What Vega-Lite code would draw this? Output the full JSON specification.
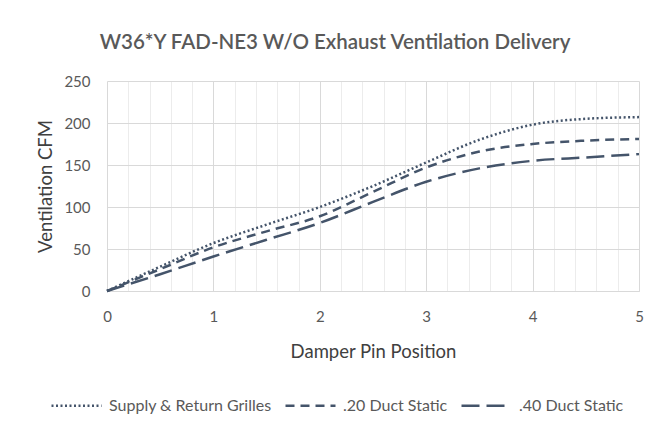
{
  "$schema": "https://vega.github.io/schema/vega-lite/v6.json",
  "width": 532,
  "height": 210,
  "autosize": "none",
  "padding": {"left": 107, "top": 81, "right": 16, "bottom": 136},
  "background": "white",
  "title": {
    "text": "W36*Y FAD-NE3 W/O Exhaust Ventilation Delivery",
    "font": "Lato",
    "fontSize": 20.5,
    "fontWeight": 600,
    "color": "#595959",
    "anchor": "middle",
    "frame": "group",
    "dx": -38,
    "offset": 21
  },
  "data": {
    "values": [
      {"pos": 0, "cfm": 0, "series": "Supply & Return Grilles"},
      {"pos": 0.5, "cfm": 29, "series": "Supply & Return Grilles"},
      {"pos": 1, "cfm": 57, "series": "Supply & Return Grilles"},
      {"pos": 1.5, "cfm": 79, "series": "Supply & Return Grilles"},
      {"pos": 2, "cfm": 100, "series": "Supply & Return Grilles"},
      {"pos": 2.5, "cfm": 125, "series": "Supply & Return Grilles"},
      {"pos": 3, "cfm": 153, "series": "Supply & Return Grilles"},
      {"pos": 3.5, "cfm": 180, "series": "Supply & Return Grilles"},
      {"pos": 4, "cfm": 198, "series": "Supply & Return Grilles"},
      {"pos": 4.5, "cfm": 205, "series": "Supply & Return Grilles"},
      {"pos": 5, "cfm": 207, "series": "Supply & Return Grilles"},
      {"pos": 0, "cfm": 0, "series": ".20 Duct Static"},
      {"pos": 0.5, "cfm": 26, "series": ".20 Duct Static"},
      {"pos": 1, "cfm": 52, "series": ".20 Duct Static"},
      {"pos": 1.5, "cfm": 71, "series": ".20 Duct Static"},
      {"pos": 2, "cfm": 89, "series": ".20 Duct Static"},
      {"pos": 2.5, "cfm": 118, "series": ".20 Duct Static"},
      {"pos": 3, "cfm": 147, "series": ".20 Duct Static"},
      {"pos": 3.5, "cfm": 166, "series": ".20 Duct Static"},
      {"pos": 4, "cfm": 175, "series": ".20 Duct Static"},
      {"pos": 4.5, "cfm": 179, "series": ".20 Duct Static"},
      {"pos": 5, "cfm": 181, "series": ".20 Duct Static"},
      {"pos": 0, "cfm": 0, "series": ".40 Duct Static"},
      {"pos": 0.5, "cfm": 20, "series": ".40 Duct Static"},
      {"pos": 1, "cfm": 41, "series": ".40 Duct Static"},
      {"pos": 1.5, "cfm": 61, "series": ".40 Duct Static"},
      {"pos": 2, "cfm": 81, "series": ".40 Duct Static"},
      {"pos": 2.5, "cfm": 106, "series": ".40 Duct Static"},
      {"pos": 3, "cfm": 130, "series": ".40 Duct Static"},
      {"pos": 3.5, "cfm": 146, "series": ".40 Duct Static"},
      {"pos": 4, "cfm": 155, "series": ".40 Duct Static"},
      {"pos": 4.5, "cfm": 159, "series": ".40 Duct Static"},
      {"pos": 5, "cfm": 163, "series": ".40 Duct Static"}
    ]
  },
  "mark": {"type": "line", "interpolate": "monotone", "color": "#44546A", "strokeWidth": 2.5, "strokeCap": "butt"},
  "encoding": {
    "x": {
      "field": "pos",
      "type": "quantitative",
      "scale": {"domain": [0, 5], "nice": false},
      "axis": {
        "title": "Damper Pin Position",
        "values": [0, 0.2, 0.4, 0.6, 0.8, 1, 1.2, 1.4, 1.6, 1.8, 2, 2.2, 2.4, 2.6, 2.8, 3, 3.2, 3.4, 3.6, 3.8, 4, 4.2, 4.4, 4.6, 4.8, 5],
        "labelExpr": "abs(datum.value - round(datum.value)) < 0.001 ? format(datum.value, 'd') : ''",
        "gridColor": {"condition": {"test": "abs(datum.value - round(datum.value)) < 0.001", "value": "#d9d9d9"}, "value": "#ececec"},
        "ticks": false,
        "domainColor": "#d9d9d9",
        "labelPadding": 18,
        "titlePadding": 18,
        "labelFlush": false
      }
    },
    "y": {
      "field": "cfm",
      "type": "quantitative",
      "scale": {"domain": [0, 250], "nice": false},
      "axis": {
        "title": "Ventilation CFM",
        "values": [0, 50, 100, 150, 200, 250],
        "ticks": false,
        "domain": false,
        "gridColor": "#d9d9d9",
        "labelPadding": 17,
        "titlePadding": 8
      }
    },
    "strokeDash": {
      "field": "series",
      "type": "nominal",
      "scale": {
        "domain": ["Supply & Return Grilles", ".20 Duct Static", ".40 Duct Static"],
        "range": [[2, 2.5], [9, 6], [18, 7]]
      },
      "legend": {
        "title": null,
        "orient": "none",
        "legendX": -57,
        "legendY": 298,
        "direction": "horizontal",
        "symbolType": "stroke",
        "symbolSize": 2500,
        "symbolStrokeWidth": 2.5,
        "symbolStrokeColor": "#44546A",
        "labelFont": "Lato",
        "labelFontSize": 16,
        "labelColor": "#595959",
        "labelLimit": 300,
        "columnPadding": 8,
        "labelOffset": 6
      }
    }
  },
  "config": {
    "view": {"stroke": null},
    "axis": {
      "labelFont": "Lato",
      "labelFontSize": 15,
      "labelColor": "#595959",
      "titleFont": "Lato",
      "titleFontSize": 18.5,
      "titleFontWeight": "normal",
      "titleColor": "#404040",
      "gridWidth": 1
    }
  }
}
